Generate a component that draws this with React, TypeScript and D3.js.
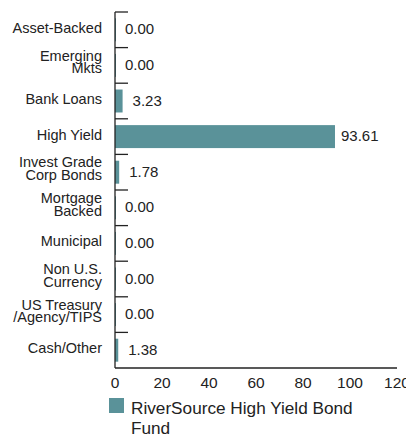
import React, { useEffect, useRef } from "react";
import * as d3 from "d3";

// 카테고리 / 값
const categories = [
	"Asset-Backed",
	"Emerging\nMkts",
	"Bank Loans",
	"High Yield",
	"Invest Grade\nCorp Bonds",
	"Mortgage\nBacked",
	"Municipal",
	"Non U.S.\nCurrency",
	"US Treasury\n/Agency/TIPS",
	"Cash/Other",
];
const values = [0.0, 0.0, 3.23, 93.61, 1.78, 0.0, 0.0, 0.0, 0.0, 1.38];
const xTicks = [0, 20, 40, 60, 80, 100, 120];
const seriesName = ["RiverSource High Yield Bond", "Fund"];

const W = 406;
const H = 438;
const FONT = "'Liberation Sans', Arial, sans-serif";
const BAR = "#5a9299";

export default function App() {
	const svgRef = useRef<SVGSVGElement>(null);

	useEffect(() => {
		const svg = d3.select(svgRef.current);
		svg.selectAll("*").remove();

		const left = 115;
		const right = 397;
		const top = 12;
		const bottom = 368;

		const x = d3.scaleLinear().domain([0, 120]).range([left, right]);
		const y = d3
			.scaleBand<number>()
			.domain(d3.range(categories.length))
			.range([top, bottom])
			.paddingInner(0.355)
			.paddingOuter(0.1775);

		const band = (bottom - top) / categories.length;

		// 막대
		svg
			.selectAll(".bar")
			.data(values)
			.join("rect")
			.attr("class", "bar")
			.attr("x", x(0))
			.attr("y", (d, i) => y(i)!)
			.attr("width", (d) => Math.max(x(d) - x(0), 1))
			.attr("height", y.bandwidth())
			.attr("fill", BAR);

		// 왼쪽 축선 + 안쪽 눈금
		svg
			.append("line")
			.attr("x1", left)
			.attr("x2", left)
			.attr("y1", top)
			.attr("y2", bottom)
			.attr("stroke", "#222")
			.attr("stroke-width", 1.3);

		svg
			.selectAll(".ytick")
			.data(d3.range(categories.length))
			.join("line")
			.attr("class", "ytick")
			.attr("x1", left)
			.attr("x2", left + 13)
			.attr("y1", (i) => top + i * band)
			.attr("y2", (i) => top + i * band)
			.attr("stroke", "#222")
			.attr("stroke-width", 1.3);

		// 아래 축선
		svg
			.append("line")
			.attr("x1", left)
			.attr("x2", right)
			.attr("y1", bottom)
			.attr("y2", bottom)
			.attr("stroke", "#222")
			.attr("stroke-width", 1.3);

		svg
			.selectAll(".xlabel")
			.data(xTicks)
			.join("text")
			.attr("class", "xlabel")
			.attr("x", (d) => x(d))
			.attr("y", 388)
			.attr("text-anchor", "middle")
			.attr("font-family", FONT)
			.attr("font-size", 15.5)
			.attr("fill", "#222")
			.text((d) => d);

		// 카테고리 라벨
		const cat = svg
			.selectAll(".cat")
			.data(categories)
			.join("text")
			.attr("class", "cat")
			.attr("text-anchor", "end")
			.attr("font-family", FONT)
			.attr("font-size", 14.5)
			.attr("fill", "#222");

		cat.each(function (d, i) {
			const lines = d.split("\n");
			const cy = y(i)! + y.bandwidth() / 2;
			const lh = 12.7;
			const start = cy - ((lines.length - 1) * lh) / 2 + 3 - (lines.length - 1) * 1.5;
			d3.select(this)
				.selectAll("tspan")
				.data(lines)
				.join("tspan")
				.attr("x", 102)
				.attr("y", (l, j) => start + j * lh)
				.text((l) => l);
		});

		// 값 라벨
		svg
			.selectAll(".val")
			.data(values)
			.join("text")
			.attr("class", "val")
			.attr("x", (d) => x(d) + (d > 50 ? 6 : 10))
			.attr("y", (d, i) => y(i)! + y.bandwidth() / 2 + 4.5)
			.attr("font-family", FONT)
			.attr("font-size", 15)
			.attr("fill", "#222")
			.text((d) => d.toFixed(2));

		// 범례
		svg
			.append("rect")
			.attr("x", 109)
			.attr("y", 398)
			.attr("width", 15)
			.attr("height", 15)
			.attr("fill", BAR);

		svg
			.append("text")
			.attr("font-family", FONT)
			.attr("font-size", 17.2)
			.attr("fill", "#222")
			.selectAll("tspan")
			.data(seriesName)
			.join("tspan")
			.attr("x", 131)
			.attr("y", (d, j) => 414 + j * 19.5)
			.text((d) => d);
	}, []);

	return (
		<div style={{ position: "absolute", left: 0, top: 0 }}>
			<svg ref={svgRef} width={W} height={H} style={{ display: "block", background: "#fff" }} />
		</div>
	);
}
